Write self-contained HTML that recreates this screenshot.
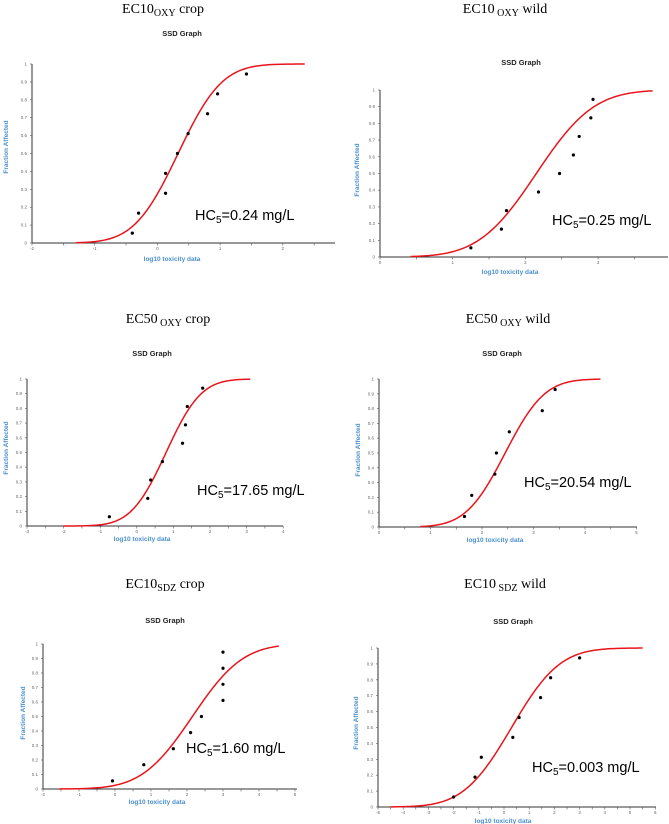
<!DOCTYPE html>
<html><head><meta charset="utf-8">
<style>
html,body{margin:0;padding:0;background:#fff;}
svg{display:block;font-family:"Liberation Sans",sans-serif;}
.ttl{font-family:"Liberation Serif",serif;font-size:14px;fill:#000;}
.ssd{font-size:7.5px;font-weight:bold;fill:#222;}
.axl{font-size:6.5px;font-weight:bold;fill:#4a8fd0;}
.tk{font-size:4.5px;fill:#666;}
.hc{font-size:14.5px;fill:#000;}
</style></head>
<body>
<svg id="fig" width="669" height="824" viewBox="0 0 669 824"></svg>
<script>
// ---- data per panel ----
const panelTitles = ["EC10|OXY| crop","EC10| OXY| wild","EC50| OXY| crop","EC50| OXY| wild","EC10|SDZ| crop","EC10| SDZ| wild"];
const hc5Labels = ["=0.24 mg/L","=0.25 mg/L","=17.65 mg/L","=20.54 mg/L","=1.60 mg/L","=0.003 mg/L"];
const p1X = [-0.4,-0.3,0.13,0.13,0.32,0.49,0.8,0.96,1.42];
const p1Y = [0.055,0.167,0.278,0.389,0.5,0.611,0.722,0.833,0.944];
const p2X = [1.25,1.67,1.74,2.18,2.47,2.66,2.74,2.9,2.93];
const p2Y = [0.055,0.167,0.278,0.389,0.5,0.611,0.722,0.833,0.944];
const p3X = [-0.75,0.3,0.38,0.7,1.25,1.33,1.38,1.8];
const p3Y = [0.063,0.188,0.313,0.438,0.563,0.688,0.813,0.938];
const p4X = [1.66,1.8,2.25,2.28,2.53,3.17,3.42];
const p4Y = [0.071,0.214,0.357,0.5,0.643,0.786,0.929];
const p5X = [-0.07,0.8,1.62,2.1,2.4,3,3,3,3];
const p5Y = [0.056,0.167,0.278,0.389,0.5,0.611,0.722,0.833,0.944];
const p6X = [-2,-1.15,-0.9,0.35,0.6,1.45,1.85,3];
const p6Y = [0.063,0.188,0.313,0.438,0.563,0.688,0.813,0.938];
const fitMean = [0.33,2.15,0.8,2.45,2.15,0.3];
const fitSd = [0.55,0.62,0.75,0.6,1.1,1.5];
const fitFrom = [-1.3,0.42,-2,0.8,-1.55,-4.5];
const fitTo = [2.35,3.75,3.1,4.3,4.55,5.5];
const xMin = [-2,0,-3,0,-2,-5];
const xMax = [2.8,3.8,4,5,5,6];
const xTickLabels = [[-2,-1,0,1,2],[0,1,2,3],[-3,-2,-1,0,1,2,3,4],[0,1,2,3,4,5],[-2,-1,0,1,2,3,4,5],[-5,-4,-3,-2,-1,0,1,2,3,4,5,6]];
const yTickLabels = [0,0.1,0.2,0.3,0.4,0.5,0.6,0.7,0.8,0.9,1];
const ptsX = [p1X,p2X,p3X,p4X,p5X,p6X];
const ptsY = [p1Y,p2Y,p3Y,p4Y,p5Y,p6Y];

// ---- layout (pixel geometry) ----
const L = [
 {ax:32,x0:-2,ux:62.7,yTop:64,yBot:243,tx:163,ty:13,sx:182,sy:36,lx:172,ly:261,yl:6,ylc:147,hx:195,hy:220,axEnd:335},
 {ax:380,x0:0,ux:72.7,yTop:90,yBot:257,tx:505,ty:13,sx:521,sy:65,lx:510,ly:274,yl:357,ylc:170,hx:552,hy:225,axEnd:668},
 {ax:27,x0:-3,ux:36.6,yTop:379,yBot:526,tx:168,ty:323,sx:152,sy:356,lx:142,ly:541,yl:6,ylc:448,hx:197,hy:495,axEnd:283},
 {ax:379,x0:0,ux:51.5,yTop:379,yBot:527,tx:508,ty:323,sx:502,sy:356,lx:495,ly:542,yl:358,ylc:450,hx:524,hy:487,axEnd:637},
 {ax:43,x0:-2,ux:36,yTop:644,yBot:789,tx:165,ty:588,sx:165,sy:623,lx:157,ly:804,yl:23,ylc:713,hx:186,hy:753,axEnd:297},
 {ax:378,x0:-5,ux:25.2,yTop:648,yBot:807,tx:505,ty:588,sx:513,sy:624,lx:503,ly:823,yl:356,ylc:723,hx:532,hy:772,axEnd:656}
];
const NS="http://www.w3.org/2000/svg";
const svg=document.getElementById('fig');
function mk(tag,attrs,parent,text){const e=document.createElementNS(NS,tag);for(const k in attrs)e.setAttribute(k,attrs[k]);if(text!==undefined)e.textContent=text;(parent||svg).appendChild(e);return e;}
function erf(x){const s=x<0?-1:1;x=Math.abs(x);const t=1/(1+0.3275911*x);const y=1-(((((1.061405429*t-1.453152027)*t)+1.421413741)*t-0.284496736)*t+0.254829592)*t*Math.exp(-x*x);return s*y;}
function ncdf(x,m,s){return 0.5*(1+erf((x-m)/(s*Math.SQRT2)));}

for(let i=0;i<6;i++){
  const g=L[i];
  const X=v=>g.ax+(v-g.x0)*g.ux;
  const Y=v=>g.yBot-v*(g.yBot-g.yTop);
  const grp=mk('g',{});
  
  
  const tp=panelTitles[i].split('|');
  const t=mk('text',{x:g.tx,y:g.ty,'text-anchor':'middle',class:'ttl'},grp);
  
  
  mk('tspan',{},t,tp[0]);
  mk('tspan',{'font-size':'10px',dy:'3'},t,tp[1]);
  mk('tspan',{dy:'-3'},t,tp[2]);
  const s=mk('text',{x:g.sx,y:g.sy,'text-anchor':'middle',class:'ssd'},grp,'SSD Graph');
  
  
  // axes
  const ya=mk('line',{x1:g.ax,y1:g.yTop,x2:g.ax,y2:g.yBot,stroke:'#333','stroke-width':1},grp);
  
  
  const xa=mk('line',{x1:g.ax,y1:g.yBot,x2:g.axEnd,y2:g.yBot,stroke:'#333','stroke-width':1},grp);
  
  
  yTickLabels.forEach(v=>{
    mk('line',{x1:g.ax-2,y1:Y(v),x2:g.ax,y2:Y(v),stroke:'#555','stroke-width':0.6},grp);
    const tl=mk('text',{x:g.ax-5,y:Y(v)+1.5,'text-anchor':'end',class:'tk'},grp,String(v));
    
    
  });
  xTickLabels[i].forEach(v=>{
    mk('line',{x1:X(v),y1:g.yBot,x2:X(v),y2:g.yBot+2.5,stroke:'#555','stroke-width':0.6},grp);
    if(X(v+0.5)<=g.axEnd) mk('line',{x1:X(v+0.5),y1:g.yBot,x2:X(v+0.5),y2:g.yBot+2.5,stroke:'#555','stroke-width':0.6},grp);
    const tl=mk('text',{x:X(v),y:g.yBot+7,'text-anchor':'middle',class:'tk'},grp,String(v));
    
    
  });
  const xl=mk('text',{x:g.lx,y:g.ly,'text-anchor':'middle',class:'axl'},grp,'log10 toxicity data');
  
  
  const yl=mk('text',{x:0,y:0,'text-anchor':'middle',class:'axl',transform:`translate(${g.yl+2},${g.ylc}) rotate(-90)`},grp,'Fraction Affected');
  
  
  // fitted curve
  let d='';
  for(let k=0;k<=120;k++){const xv=fitFrom[i]+(fitTo[i]-fitFrom[i])*k/120;d+=(k?'L':'M')+X(xv).toFixed(2)+','+Y(ncdf(xv,fitMean[i],fitSd[i])).toFixed(2);}
  const c=mk('path',{d:d,fill:'none',stroke:'#e8141b','stroke-width':1.5},grp);
  
  
  ptsX[i].forEach((xv,j)=>{
    const p=mk('circle',{cx:X(xv),cy:Y(ptsY[i][j]),r:1.6,fill:'#000'},grp);
    
    
  });
  const h=mk('text',{x:g.hx,y:g.hy,class:'hc'},grp);
  
  
  mk('tspan',{},h,'HC');
  mk('tspan',{'font-size':'10px',dy:'3'},h,'5');
  mk('tspan',{dy:'-3'},h,hc5Labels[i]);
}
</script>
</body></html>
